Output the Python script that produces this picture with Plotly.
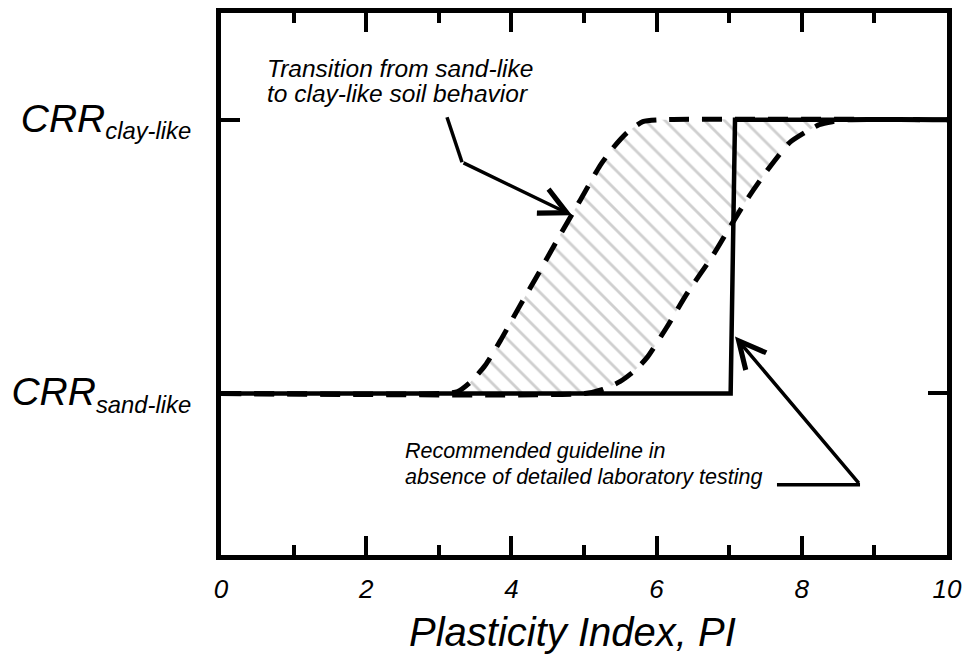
#!/usr/bin/env python3

"""
CRR TRANSITION FROM SAND-LIKE TO CLAY-LIKE BEHAVIOR

Redraws the schematic of cyclic resistance ratio vs. plasticity index
and writes it to out.html.
"""

from typing import List

import plotly.graph_objects as go

# Recommended guideline (solid line): CRR level 0 = sand-like, 1 = clay-like
guide_pi: List[float] = [0.0, 7.02, 7.08, 10.0]
guide_crr: List[float] = [0.0, 0.0, 1.0, 1.0]

# Left (lower PI) bound of the transition band
left_pi: List[float] = [
    0.0, 3.02, 3.26, 3.43, 3.64, 3.85, 4.12, 4.40, 4.67, 4.95,
    5.22, 5.39, 5.59, 5.81, 6.04, 10.0,
]
left_crr: List[float] = [
    0.0, 0.0, 0.007, 0.040, 0.103, 0.194, 0.322, 0.451, 0.579, 0.707,
    0.832, 0.894, 0.952, 0.993, 1.0, 1.0,
]

# Right (higher PI) bound of the transition band
right_pi: List[float] = [
    0.0, 5.01, 5.26, 5.50, 5.70, 5.87, 6.14, 6.42, 6.76, 6.96,
    7.24, 7.51, 7.83, 8.06, 8.24, 8.42, 8.65, 10.0,
]
right_crr: List[float] = [
    0.0, 0.0, 0.015, 0.044, 0.084, 0.132, 0.242, 0.366, 0.498, 0.586,
    0.707, 0.810, 0.916, 0.956, 0.982, 0.993, 1.0, 1.0,
]

x_ticks: List[int] = [0, 2, 4, 6, 8, 10]
y_ticks: List[int] = [0, 1]
y_tick_labels: List[str] = [
    "<span style='font-size:39px'>CRR</span><sub>sand-like</sub>",
    "<span style='font-size:39px'>CRR</span><sub>clay-like</sub>",
]

FONT = "Arial, Liberation Sans, sans-serif"


def main() -> None:
    """Build the figure and save it."""

    fig = go.Figure()

    dash = "20px,13px"
    band_line = dict(color="black", width=5, dash=dash, shape="spline", smoothing=0.6)

    # transition band: left bound, then right bound filled back to it
    fig.add_trace(
        go.Scatter(x=left_pi, y=left_crr, mode="lines", line=band_line, hoverinfo="skip")
    )
    fig.add_trace(
        go.Scatter(
            x=right_pi,
            y=right_crr,
            mode="lines",
            line=band_line,
            fill="tonexty",
            fillcolor="rgba(255,255,255,0)",
            fillpattern=dict(
                shape="\\",
                fgcolor="#a0a0a0",
                bgcolor="rgba(255,255,255,0)",
                size=14,
                solidity=0.2,
                fillmode="overlay",
            ),
            hoverinfo="skip",
        )
    )

    # recommended guideline
    fig.add_trace(
        go.Scatter(
            x=guide_pi,
            y=guide_crr,
            mode="lines",
            line=dict(color="black", width=4.5),
            hoverinfo="skip",
        )
    )

    notes = [
        (0.606, 1.186, "Transition from sand-like", 24.5),
        (0.606, 1.095, "to clay-like soil behavior", 24.5),
        (2.507, -0.210, "Recommended guideline in", 21.5),
        (2.507, -0.305, "absence of detailed laboratory testing", 21.5),
    ]
    for x, y, txt, size in notes:
        fig.add_annotation(
            x=x, y=y, xref="x", yref="y", text=txt, showarrow=False,
            xanchor="left", yanchor="middle",
            font=dict(family=FONT, size=size, color="black", style="italic"),
        )

    # leader lines (no heads)
    leader = dict(color="black", width=3.5)
    fig.add_shape(type="line", x0=3.113, y0=1.009, x1=3.320, y1=0.845, line=leader)
    fig.add_shape(type="line", x0=7.658, y0=-0.333, x1=8.802, y1=-0.333, line=leader)

    # arrows
    arrows = [
        (4.835, 0.651, 3.320, 0.845),
        (7.080, 0.208, 8.802, -0.333),
    ]
    for x, y, ax, ay in arrows:
        fig.add_annotation(
            x=x, y=y, ax=ax, ay=ay, xref="x", yref="y", axref="x", ayref="y",
            text="", showarrow=True, arrowhead=5, arrowsize=1.5,
            arrowwidth=3.5, arrowcolor="black",
        )

    # axis title
    fig.add_annotation(
        x=0.4835, y=-0.1413, xref="paper", yref="paper",
        text="Plasticity Index, PI", showarrow=False,
        xanchor="center", yanchor="middle",
        font=dict(family=FONT, size=40, color="black", style="italic"),
    )

    axis_common = dict(
        ticks="inside",
        ticklen=19,
        tickwidth=4,
        tickcolor="black",
        showline=True,
        linewidth=5,
        linecolor="black",
        mirror="ticks",
        showgrid=False,
        zeroline=False,
        automargin=False,
    )
    fig.update_xaxes(
        range=[0, 10],
        tickvals=x_ticks,
        minor=dict(dtick=1, ticks="inside", ticklen=10, tickwidth=4, tickcolor="black", showgrid=False),
        tickfont=dict(family=FONT, size=26, color="black", style="italic"),
        ticklabelstandoff=7,
        **axis_common,
    )
    fig.update_yaxes(
        range=[-0.59, 1.39],
        tickvals=y_ticks,
        ticktext=y_tick_labels,
        tickfont=dict(family=FONT, size=34, color="black", style="italic"),
        ticklabelstandoff=18,
        **axis_common,
    )

    # page body adds an 8 px offset, so the figure is sized to the visible area
    fig.update_layout(
        width=957,
        height=649,
        margin=dict(l=213, r=18, t=5, b=102),
        paper_bgcolor="white",
        plot_bgcolor="white",
        showlegend=False,
    )

    fig.write_html("out.html")


if __name__ == "__main__":
    main()

### END ###
